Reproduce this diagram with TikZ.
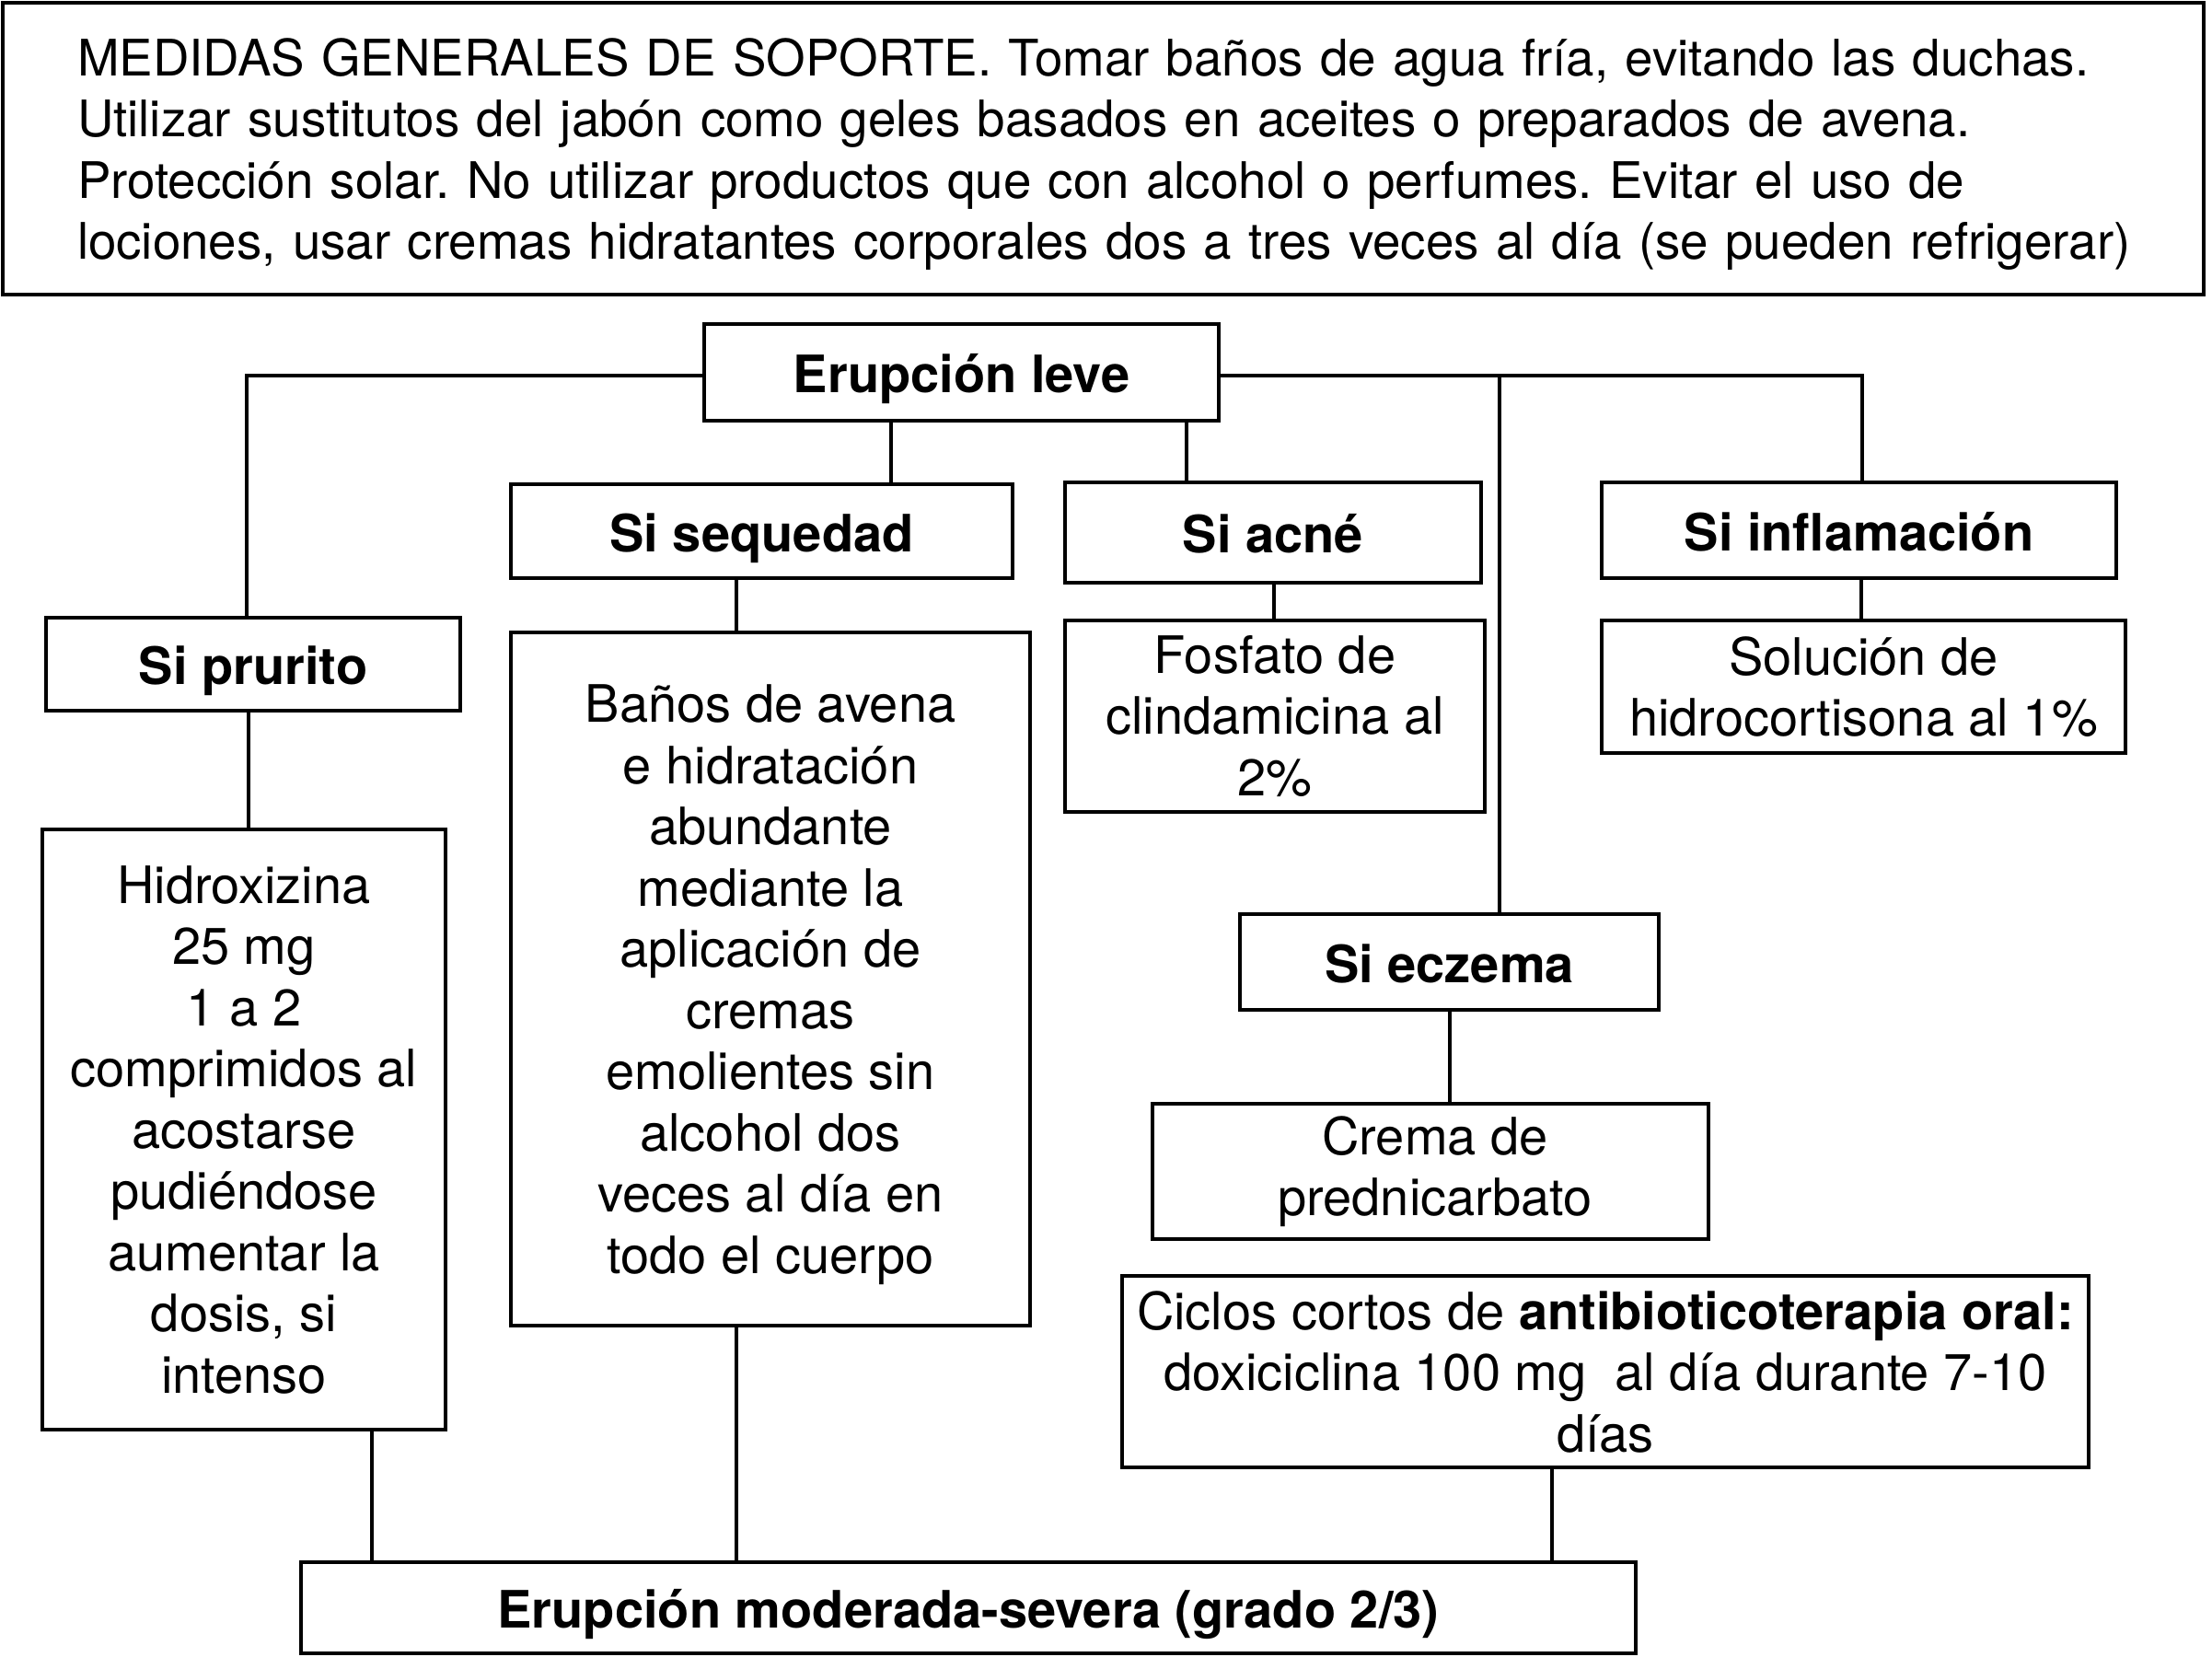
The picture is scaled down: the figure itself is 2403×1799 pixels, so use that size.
\documentclass[tikz,border=0pt]{standalone}
\usepackage{fontspec}
\setmainfont{TeX Gyre Heros}
\frenchspacing
\begin{document}
\begin{tikzpicture}[x=1pt,y=-1pt,
  box/.style={draw, line width=4pt, inner sep=0pt, align=center,
    font=\fontsize{56}{66.5}\selectfont},
  lbl/.style={box, font=\fontsize{56}{66.5}\selectfont\bfseries,
    text height=44pt, text depth=0pt},
  conn/.style={line width=4pt}]
\useasboundingbox (0,0) rectangle (2403,1799);
% boxes
\node[box, align=left, inner xsep=81pt, text width=2229pt, minimum height=317.5pt,
  font=\fontsize{54.7}{66.5}\selectfont] (top) at (1198.5,161.25)
 {\rule{0pt}{53pt}\mbox{MEDIDAS GENERALES DE SOPORTE. Tomar baños de agua fría, evitando las duchas.}\\
  \mbox{Utilizar sustitutos del jabón como geles basados en aceites o preparados de avena.}\\
  \mbox{Protección solar. No utilizar productos que con alcohol o perfumes. Evitar el uso de}\\
  \mbox{lociones, usar cremas hidratantes corporales dos a tres veces al día (se pueden refrigerar)}};
\node[lbl, minimum width=559pt, minimum height=105pt] (leve) at (1044.5,404.5) {Erupción leve};
\node[lbl, minimum width=545pt, minimum height=102pt] (seq) at (827.5,577) {Si sequedad};
\node[lbl, minimum width=452pt, minimum height=109pt] (acne) at (1383,578.5) {Si acné};
\node[lbl, minimum width=559pt, minimum height=104pt] (infl) at (2019.5,576) {Si inflamación};
\node[lbl, minimum width=450pt, minimum height=101pt] (prur) at (275,721.5) {Si prurito};
\node[box, minimum width=438pt, minimum height=652pt] (hidr) at (265,1227)
 {Hidroxizina\\25 mg\\1 a 2\\comprimidos al\\acostarse\\pudiéndose\\aumentar la\\dosis, si\\intenso};
\node[box, minimum width=564pt, minimum height=753pt, text depth=0pt] (banos) at (837,1063.5)
 {Baños de avena\\e hidratación\\abundante\\mediante la\\aplicación de\\cremas\\emolientes sin\\alcohol dos\\veces al día en\\todo el cuerpo};
\node[box, minimum width=456pt, minimum height=208pt] (fosf) at (1385,778)
 {Fosfato de\\clindamicina al\\2\%};
\node[box, minimum width=569pt, minimum height=144pt] (sol) at (2024.5,746)
 {Solución de\\hidrocortisona al 1\%};
\node[lbl, minimum width=455pt, minimum height=104pt] (ecz) at (1574.5,1045) {Si eczema};
\node[box, minimum width=604pt, minimum height=147pt] (crema) at (1554,1272.5)
 {\hspace*{10pt}Crema de\\\hspace*{10pt}prednicarbato};
\node[box, minimum width=1050pt, minimum height=208pt] (ciclos) at (1744,1490)
 {Ciclos cortos de \textbf{antibioticoterapia oral:}\\doxiciclina 100 mg\ \ al día durante 7-10\\días};
\node[lbl, minimum width=1450pt, minimum height=99pt] (mod) at (1052,1746.5)
 {Erupción moderada-severa (grado 2/3)};
% connectors
\coordinate (jl) at (268,408);
\coordinate (jr) at (2023,408);
\coordinate (je) at (1629,408);
\draw[conn] (leve.west |- jl) -- (jl) -- (jl |- prur.north);
\draw[conn] (leve.east |- jr) -- (jr) -- (jr |- infl.north);
\draw[conn] (je) -- (je |- ecz.north);
\draw[conn] (leve.south -| 968,0) -- (seq.north -| 968,0);
\draw[conn] (leve.south -| 1289,0) -- (acne.north -| 1289,0);
\draw[conn] (acne.south -| 1384,0) -- (fosf.north -| 1384,0);
\draw[conn] (infl.south -| 2022,0) -- (sol.north -| 2022,0);
\draw[conn] (prur.south -| 270,0) -- (hidr.north -| 270,0);
\draw[conn] (seq.south -| 800,0) -- (banos.north -| 800,0);
\draw[conn] (ecz.south -| 1575,0) -- (crema.north -| 1575,0);
\draw[conn] (hidr.south -| 404,0) -- (mod.north -| 404,0);
\draw[conn] (banos.south -| 800,0) -- (mod.north -| 800,0);
\draw[conn] (ciclos.south -| 1686,0) -- (mod.north -| 1686,0);
\end{tikzpicture}
\end{document}
